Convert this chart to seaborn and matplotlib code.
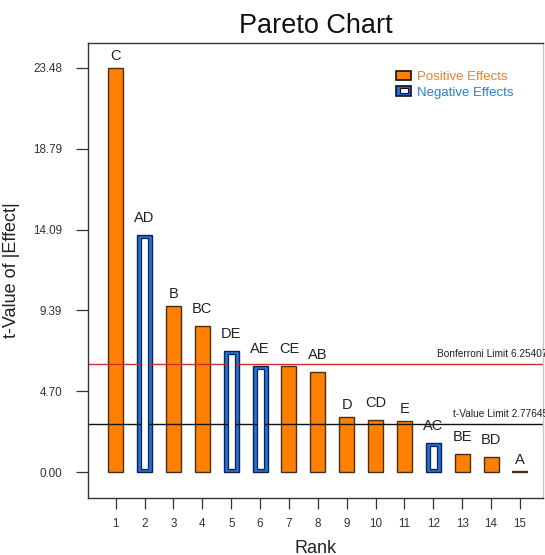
import numpy as np
import pandas as pd
import matplotlib
matplotlib.use("Agg")
import matplotlib.pyplot as plt
from matplotlib.patches import Patch, Rectangle
from matplotlib.legend_handler import HandlerBase
import seaborn as sns

# Effects sorted by |t|, with their sign
terms = ["C", "AD", "B", "BC", "DE", "AE", "CE", "AB", "D", "CD", "E", "AC", "BE", "BD", "A"]
t_values = [23.483, 13.78, 9.67, 8.51, 7.03, 6.16, 6.16, 5.80, 3.22, 3.02, 2.98, 1.67, 1.05, 0.89, 0.03]
signs = ["Positive", "Negative", "Positive", "Positive", "Negative", "Negative", "Positive",
         "Positive", "Positive", "Positive", "Positive", "Negative", "Positive", "Positive", "Positive"]
ranks = list(range(1, 16))
bonferroni_limit = 6.25407
t_limit = 2.77645

ORANGE = "#FF8000"
BLUE = "#1E74DA"
EDGE_POS = "#4a2e18"
EDGE_NEG = "#10204a"

df = pd.DataFrame({"Rank": ranks, "t": t_values, "Term": terms, "Sign": signs})

sns.set_theme(style="white")
plt.rcParams["font.family"] = ["Liberation Sans", "DejaVu Sans"]

fig = plt.figure(figsize=(5.45, 5.55), dpi=100)
ax = fig.add_axes([0.1615, 0.1027, 0.835, 0.8198])

sns.barplot(data=df, x="Rank", y="t", hue="Sign", native_scale=True, dodge=False,
            palette={"Positive": ORANGE, "Negative": BLUE}, width=0.52, saturation=1,
            linewidth=1.0, legend=False, ax=ax)
for patch, sign in zip(sorted(ax.patches, key=lambda p: p.get_x()), df["Sign"]):
    patch.set_edgecolor(EDGE_POS if sign == "Positive" else EDGE_NEG)

# hollow centre of the negative-effect bars
inset = 0.18
neg = df[df["Sign"] == "Negative"]
ax.bar(neg["Rank"], neg["t"] - 2 * inset, bottom=inset, width=0.25,
       color="white", edgecolor=EDGE_NEG, linewidth=0.9, zorder=3)

# term labels above bars
for r, t, name in zip(df["Rank"], df["t"], df["Term"]):
    off = 3.4 if len(name) == 1 else 7.2
    ax.annotate(name, (r, t), xytext=(0, off), textcoords="offset points",
                ha="center", va="bottom", fontsize=10.5, color="#222222")

# significance limits
ax.axhline(bonferroni_limit, color="#C83232", lw=1.0, zorder=1)
ax.axhline(t_limit, color="#111111", lw=1.0, zorder=1)
ax.annotate(f"Bonferroni Limit {bonferroni_limit:.5f}", xy=(0.767, bonferroni_limit),
            xycoords=("axes fraction", "data"), xytext=(0, 4), textcoords="offset points",
            fontsize=7.3, color="#222222", va="bottom", ha="left", annotation_clip=False)
ax.annotate(f"t-Value Limit {t_limit:.5f}", xy=(0.802, t_limit),
            xycoords=("axes fraction", "data"), xytext=(0, 4), textcoords="offset points",
            fontsize=7.3, color="#222222", va="bottom", ha="left", annotation_clip=False)

ymax = max(t_values)
yticks = np.linspace(0, ymax, 6)
ax.set_ylim(-1.511, 24.93)
ax.set_xlim(0.04, 15.80)
ax.set_yticks(yticks)
ax.set_yticklabels([f"{v:.2f}" for v in yticks])
ax.set_xticks(ranks)
ax.set_xticklabels([str(r) for r in ranks])
ax.tick_params(axis="y", direction="out", length=8.6, width=0.9, pad=10, color="#333333",
               labelsize=8.4, labelcolor="#333333", left=True)
ax.tick_params(axis="x", direction="out", length=8.2, width=0.9, pad=6, color="#333333",
               labelsize=8.4, labelcolor="#333333", bottom=True)

for side in ["left", "bottom", "top"]:
    ax.spines[side].set_color("#333333")
    ax.spines[side].set_linewidth(1.0)
ax.spines["right"].set_color("#c8c8c8")
ax.spines["right"].set_linewidth(1.0)

ax.set_title("Pareto Chart", fontsize=19.5, color="#111111", pad=7)
ax.set_ylabel("t-Value of |Effect|", fontsize=13, color="#222222")
ax.set_xlabel("Rank", fontsize=13, color="#222222")
ax.yaxis.set_label_coords(-0.149, 0.5)
ax.xaxis.label.set_va("center")
ax.xaxis.set_label_coords(0.5, -0.11)


class HollowHandler(HandlerBase):
    def create_artists(self, legend, orig, xd, yd, w, h, fontsize, trans):
        outer = Rectangle((xd, yd), w, h, facecolor=BLUE, edgecolor="#111111",
                          linewidth=1.2, transform=trans)
        inner = Rectangle((xd + w * 0.22, yd + h * 0.25), w * 0.56, h * 0.5,
                          facecolor="white", edgecolor="#111111", linewidth=0.8,
                          transform=trans)
        return [outer, inner]


pos_handle = Patch(facecolor=ORANGE, edgecolor="#111111", linewidth=1.2)
neg_handle = Patch(facecolor=BLUE)
leg = ax.legend([pos_handle, neg_handle], ["Positive Effects", "Negative Effects"],
                handler_map={neg_handle: HollowHandler()},
                loc="upper left", bbox_to_anchor=(0.672, 0.945), frameon=False,
                fontsize=9.5, handlelength=1.1, handleheight=0.75, handletextpad=0.45,
                labelspacing=0.25, borderpad=0.2, borderaxespad=0)
leg.get_texts()[0].set_color("#F08028")
leg.get_texts()[1].set_color("#2A80DC")

fig.savefig("out.png", dpi=100)
